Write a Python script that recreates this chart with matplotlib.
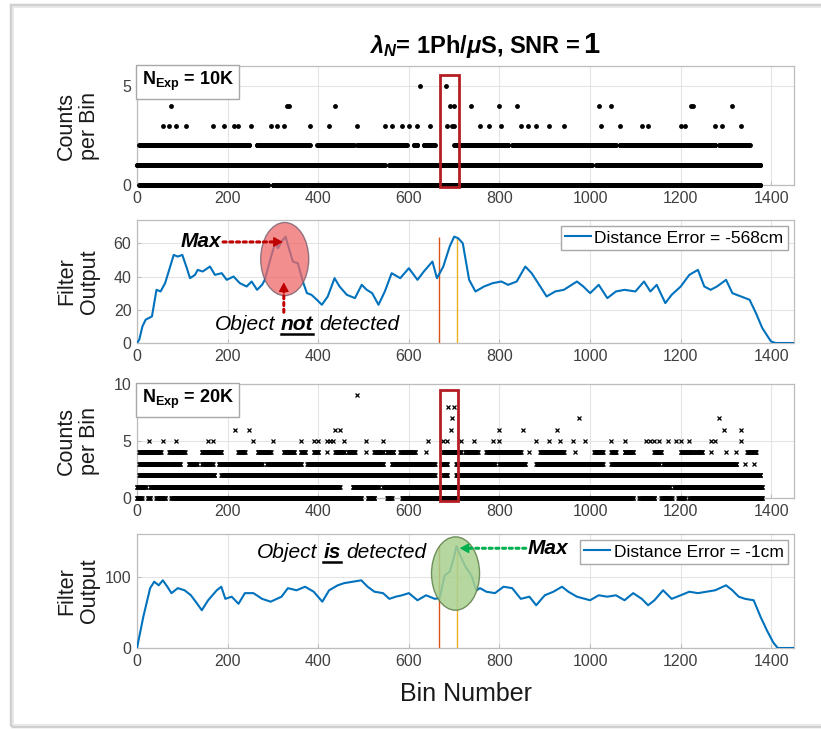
import numpy as np
import matplotlib
matplotlib.use("Agg")
import matplotlib.pyplot as plt
from matplotlib.patches import Ellipse, Rectangle
from matplotlib.lines import Line2D

plt.rcParams['font.family'] = ['Liberation Sans', 'DejaVu Sans']
plt.rcParams['mathtext.fontset'] = 'custom'
plt.rcParams['mathtext.rm'] = 'Liberation Sans:bold'
plt.rcParams['mathtext.it'] = 'Liberation Sans:italic:bold'
plt.rcParams['mathtext.bf'] = 'Liberation Sans:bold'

# ---------------- data ----------------
x_ticks = [0, 200, 400, 600, 800, 1000, 1200, 1400]

# Panel 1 (N_Exp = 10K): bins with a dot at each count level
p1_l0_runs = [(5, 290), (300, 1376)]
p1_l1_runs = [(0, 547), (557, 1004), (1014, 1376)]
p1_l2_runs = [(5, 248), (264, 381), (398, 478), (486, 595), (611, 619), (633, 657),
              (700, 819), (828, 1057), (1066, 1276), (1285, 1352)]
p1_l3_bins = [57, 71, 86, 109, 167, 193, 214, 224, 252, 295, 309, 324, 381, 424, 486, 547,
              562, 585, 600, 619, 647, 685, 695, 700, 757, 776, 804, 847, 862, 881, 909, 942,
              1023, 1066, 1114, 1128, 1200, 1209, 1276, 1290, 1333]
p1_l4_bins = [76, 330, 336, 438, 690, 700, 738, 800, 838, 1019, 1047, 1223, 1228, 1314]
p1_l5_bins = [624, 681]

# Panel 2 filter output (N_Exp = 10K)
p2_bins = [0, 5, 12, 19, 33, 43, 52, 62, 71, 81, 90, 100, 110, 117, 128, 134, 145, 161, 172, 187,
           198, 213, 227, 242, 253, 265, 276, 282, 297, 306, 311, 319, 328, 333, 344, 355, 366, 375,
           385, 397, 408, 421, 436, 447, 463, 481, 496, 507, 519, 533, 547, 562, 581, 600, 619, 633,
           652, 662, 676, 690, 700, 709, 719, 733, 747, 766, 785, 804, 819, 838, 857, 871, 890, 904,
           923, 942, 971, 985, 1000, 1019, 1038, 1057, 1076, 1100, 1119, 1133, 1147, 1166, 1180,
           1200, 1219, 1238, 1252, 1266, 1280, 1300, 1314, 1333, 1352, 1366, 1380, 1399, 1409, 1450]
p2_vals = [0, 2, 10, 14, 16, 32, 31, 36, 44, 53, 52, 53, 45, 39, 41, 44, 43, 46, 41, 42,
           38, 40, 36, 34, 37, 32, 35, 38, 53, 61, 57, 61, 64, 59, 49, 48, 37, 30,
           29, 26, 23, 28, 39, 34, 29, 27, 35, 32, 30, 23, 31, 42, 39, 45, 38, 43,
           49, 39, 46, 58, 64, 63, 60, 38, 31, 34, 36, 37, 35, 37, 46, 42, 34, 28,
           31, 32, 37, 34, 30, 35, 27, 31, 32, 31, 37, 31, 35, 24, 29,
           34, 41, 44, 34, 32, 34, 38, 30, 28, 26, 18, 9, 1, 0, 0]
p2_legend = 'Distance Error = -568cm'

# Panel 3 (N_Exp = 20K)
p3_l0_runs = [(0, 10), (24, 29), (43, 62), (76, 495), (509, 524), (552, 562), (585, 1095),
              (1109, 1142), (1157, 1180), (1195, 1209), (1219, 1380)]
p3_l1_runs = [(0, 19), (29, 447), (476, 533), (543, 1176), (1185, 1380)]
p3_l2_runs = [(5, 171), (186, 657), (676, 685), (705, 1376)]
p3_l3_runs = [(5, 62), (67, 95), (114, 133), (143, 167), (181, 276), (286, 362), (376, 543),
              (562, 657), (671, 685), (705, 790), (800, 857), (881, 1028), (1047, 1152),
              (1161, 1323), (1342, 1342), (1361, 1361)]
p3_l4_runs = [(5, 52), (71, 105), (143, 186), (224, 238), (267, 295), (324, 347), (362, 371),
              (390, 400), (419, 419), (438, 457), (466, 481), (505, 505), (524, 543), (552, 566),
              (581, 614), (638, 638), (676, 714), (724, 752), (771, 847), (866, 866), (890, 942),
              (966, 966), (1009, 1028), (1047, 1057), (1076, 1095), (1142, 1157), (1200, 1228),
              (1233, 1247), (1266, 1266), (1299, 1299), (1323, 1323), (1347, 1366)]
p3_l5_bins = [27, 57, 86, 157, 167, 257, 300, 362, 390, 400, 419, 427, 433, 457, 505, 543, 643,
              676, 685, 714, 743, 785, 800, 881, 909, 933, 962, 988, 1047, 1076, 1123, 1133,
              1142, 1152, 1171, 1190, 1200, 1218, 1266, 1276, 1333]
p3_l6_bins = [216, 248, 438, 447, 692, 798, 852, 928, 1295, 1333]
p3_l7_bins = [695, 976, 1285]
p3_l8_bins = [686, 700]
p3_l9_bins = [486]

# Panel 4 filter output (N_Exp = 20K)
p4_bins = [0, 14, 29, 38, 48, 57, 67, 76, 90, 105, 119, 133, 143, 157, 176, 186, 195, 209, 224, 238,
           257, 276, 295, 319, 333, 352, 371, 390, 409, 424, 443, 457, 476, 495, 509, 524, 543, 557,
           571, 585, 600, 619, 638, 657, 668, 679, 690, 699, 705, 716, 727, 738, 749, 757, 771, 790,
           809, 828, 847, 866, 881, 900, 919, 938, 952, 971, 1000, 1019, 1038, 1057, 1076, 1095,
           1114, 1128, 1142, 1161, 1180, 1200, 1219, 1238, 1257, 1276, 1300, 1314, 1328, 1342,
           1361, 1376, 1390, 1404, 1414, 1450]
p4_vals = [0, 44, 84, 93, 88, 95, 86, 77, 84, 81, 74, 62, 53, 67, 81, 86, 69, 72, 62, 77,
           77, 69, 65, 72, 84, 81, 86, 79, 65, 81, 88, 91, 93, 95, 86, 79, 77, 69,
           72, 74, 77, 67, 74, 69, 70, 102, 107, 126, 143, 126, 112, 102, 81, 84, 79, 77,
           86, 84, 69, 72, 60, 74, 79, 86, 79, 72, 67, 74, 72, 74, 67, 77,
           69, 60, 67, 81, 69, 74, 79, 77, 79, 81, 88, 81, 72, 69,
           67, 44, 25, 8, 0, 0]
p4_legend = 'Distance Error = -1cm'

true_bin = 667        # orange line
est_bin_window = 707  # yellow line

BLUE = '#0072BD'
ORANGE = '#D95319'
YELLOW = '#EDB120'
RED = '#C00000'
GREEN = '#00B050'

# ---------------- figure ----------------
W, H = 821, 729
fig = plt.figure(figsize=(W / 100, H / 100), dpi=100)
fig.patch.set_facecolor('white')

# frame
fig.add_artist(Rectangle((11 / W, 3 / H), 1.2, (724 - 3) / H, transform=fig.transFigure,
                         fill=False, ec='#cfcfcf', lw=2.5, zorder=0))
fig.add_artist(Rectangle((12.5 / W, 4.5 / H), 1.2, (722.5 - 4.5) / H, transform=fig.transFigure,
                         fill=False, ec='#e8e8e8', lw=1.5, zorder=0))


def axes_px(left, top, right, bottom):
    return fig.add_axes([left / W, 1 - bottom / H, (right - left) / W, (bottom - top) / H])


ax1 = axes_px(137, 66, 794, 185)
ax2 = axes_px(137, 220, 794, 343)
ax3 = axes_px(137, 384, 794, 498)
ax4 = axes_px(137, 534, 794, 648)


def style(ax, ylim, yticks):
    ax.set_xlim(0, 1450)
    ax.set_ylim(*ylim)
    ax.set_xticks(x_ticks)
    ax.set_yticks(yticks)
    ax.grid(True, color='#e4e4e4', lw=0.8)
    ax.set_axisbelow(True)
    for s in ax.spines.values():
        s.set_color('#bdbdbd')
        s.set_linewidth(0.9)
    ax.tick_params(direction='in', length=3, color='#bdbdbd', labelsize=11.5,
                   labelcolor='#404040', pad=4)


style(ax1, (0, 6), [0, 5])
style(ax2, (0, 74), [0, 20, 40, 60])
style(ax3, (0, 10), [0, 5, 10])
style(ax4, (0, 160), [0, 100])


def expand(runs):
    return np.concatenate([np.arange(a, b + 1) for a, b in runs])


# Panel 1 dots
for lvl, xs in [(0, expand(p1_l0_runs)), (1, expand(p1_l1_runs)), (2, expand(p1_l2_runs)),
                (3, np.array(p1_l3_bins)), (4, np.array(p1_l4_bins)), (5, np.array(p1_l5_bins))]:
    ax1.plot(xs, np.full(len(xs), lvl), 'o', ms=3.5, mew=0, color='k', clip_on=False, zorder=3)

# Panel 3 crosses
for lvl, xs in [(0, expand(p3_l0_runs)), (1, expand(p3_l1_runs)), (2, expand(p3_l2_runs)),
                (3, expand(p3_l3_runs)), (4, expand(p3_l4_runs)), (5, np.array(p3_l5_bins)),
                (6, np.array(p3_l6_bins)), (7, np.array(p3_l7_bins)), (8, np.array(p3_l8_bins)),
                (9, np.array(p3_l9_bins))]:
    ax3.plot(xs, np.full(len(xs), lvl), 'x', ms=2.7, mew=0.9, color='k', clip_on=False, zorder=3)

# red boxes
ax1.add_patch(Rectangle((669, -0.1), 42, 5.65, fill=False, ec='#B41E22', lw=2.0,
                        clip_on=False, zorder=5))
ax3.add_patch(Rectangle((668, -0.3), 40, 9.75, fill=False, ec='#B41E22', lw=2.0,
                        clip_on=False, zorder=5))

# Filter outputs
for ax, bins, vals, lab in [(ax2, p2_bins, p2_vals, p2_legend), (ax4, p4_bins, p4_vals, p4_legend)]:
    top = max(vals)
    ax.vlines([true_bin], 0, top, color=ORANGE, lw=1.0, zorder=2)
    ax.vlines([est_bin_window], 0, top, color=YELLOW, lw=1.0, zorder=2)
    ax.plot(bins, vals, color=BLUE, lw=1.5, zorder=3, label=lab)
    leg = ax.legend(loc='upper right', fontsize=12.5, frameon=True, fancybox=False,
                    edgecolor='#a8a8a8', framealpha=1, borderpad=0.25, handlelength=1.5,
                    handletextpad=0.2, borderaxespad=0.35)
    leg.get_frame().set_linewidth(1.0)
    leg.set_zorder(6)

# ellipses
ax2.add_patch(Ellipse((326, 50.5), 106, 44, fc='#F06868', ec='#6F5A6A', lw=1.0,
                      alpha=0.75, zorder=4))
ax4.add_patch(Ellipse((703, 104.5), 106, 103, fc='#A9D18E', ec='#5E7F4A', lw=1.0,
                      alpha=0.85, zorder=4))

# N_Exp boxes
for ax, txt in [(ax1, r'N$_{\mathrm{Exp}}$ = 10K'), (ax3, r'N$_{\mathrm{Exp}}$ = 20K')]:
    ax.text(0.007, 0.965, txt, transform=ax.transAxes, fontsize=13, fontweight='bold',
            va='top', ha='left', zorder=7,
            bbox=dict(boxstyle='square,pad=0.3', fc='white', ec='#a8a8a8', lw=1.0))


def head(ax, start, end, color):
    sx, sy = ax.transData.transform(start)
    ex, ey = ax.transData.transform(end)
    d = np.hypot(ex - sx, ey - sy)
    ux, uy = (ex - sx) / d, (ey - sy) / d
    near = ax.transData.inverted().transform((ex - ux * 8, ey - uy * 8))
    ax.annotate('', xy=end, xytext=near,
                arrowprops=dict(arrowstyle='-|>,head_length=0.55,head_width=0.3', lw=1,
                                color=color, shrinkA=0, shrinkB=0), zorder=8)
    ax.annotate('', xy=near, xytext=start,
                arrowprops=dict(arrowstyle='-', ls=(0, (1, 1.2)), lw=2.2, color=color,
                                shrinkA=0, shrinkB=0), zorder=8)


head(ax2, (190, 60.8), (322, 60.8), RED)
head(ax2, (324, 18.5), (324, 36.5), RED)
head(ax4, (858, 140), (712, 140), GREEN)

ax2.text(187, 60.8, 'Max', fontsize=15, fontweight='bold', style='italic', ha='right',
         va='center', zorder=8)
ax4.text(862, 140, 'Max', fontsize=15, fontweight='bold', style='italic', ha='left',
         va='center', zorder=8)

renderer = fig.canvas.get_renderer()


def rich_text(ax, x, y, pieces, size):
    X, Y = ax.transData.transform((x, y))

    def width(s, w):
        t = fig.text(0, 0, s, fontsize=size, fontweight=w, style='italic')
        wd = t.get_window_extent(renderer).width
        t.remove()
        return wd

    sp = width('a a', 'normal') - width('aa', 'normal')
    ws = [width(s, w) for s, w, u in pieces]
    total = sum(ws) + sp * (len(pieces) - 1)
    x0 = X - total / 2
    for (s, w, u), wd in zip(pieces, ws):
        fig.text(x0 / W, Y / H, s, fontsize=size, fontweight=w, style='italic',
                 va='baseline', ha='left', zorder=9)
        if u:
            fig.add_artist(Line2D([x0 / W, (x0 + wd) / W], [(Y - 3.5) / H] * 2,
                                  color='k', lw=1.8))
        x0 += wd + sp


rich_text(ax2, 375, 7.6, [('Object', 'normal', False), ('not', 'bold', True),
                          ('detected', 'normal', False)], 15)
rich_text(ax4, 452, 126, [('Object', 'normal', False), ('is', 'bold', True),
                          ('detected', 'normal', False)], 15)

# y labels
for ax, lab in [(ax1, 'Counts\nper Bin'), (ax2, 'Filter\nOutput'),
                (ax3, 'Counts\nper Bin'), (ax4, 'Filter\nOutput')]:
    pos = ax.get_position()
    fig.text(78 / W, pos.y0 + pos.height / 2, lab, rotation=90, ha='center', va='center',
             fontsize=15.5, linespacing=1.15, color='#1a1a1a')

# x label
fig.text(465.5 / W, 1 - 694 / H, 'Bin Number', ha='center', va='center', fontsize=18,
         color='#1a1a1a')

# title
fig.text(581 / W, 1 - 53 / H, r'$\lambda_N$= 1Ph/$\mu$S, SNR = ', ha='right', va='baseline',
         fontsize=17, fontweight='bold')
fig.text(583 / W, 1 - 53 / H, '1', ha='left', va='baseline', fontsize=21, fontweight='bold')

fig.savefig('out.png', dpi=100)
